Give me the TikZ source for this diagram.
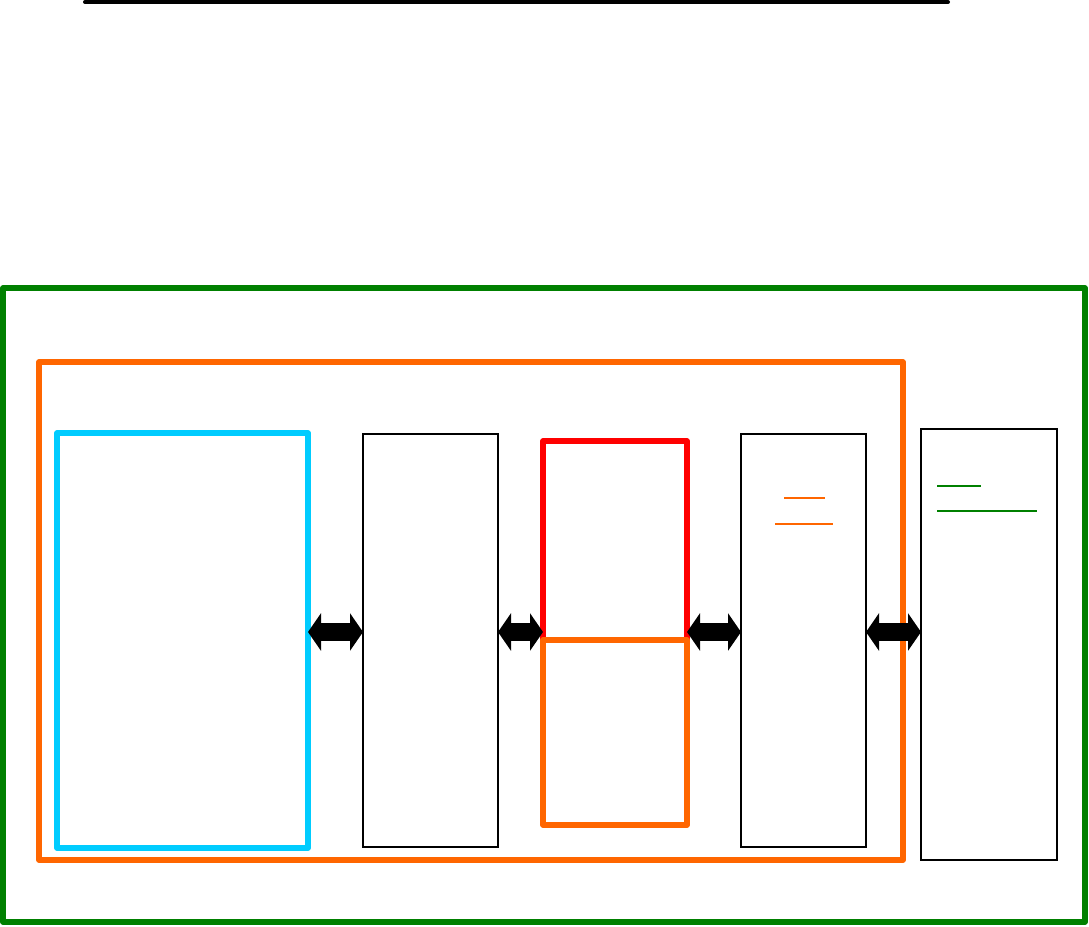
\documentclass[tikz,border=0pt]{standalone}
\usetikzlibrary{arrows.meta}
\definecolor{cgreen}{HTML}{008000}
\definecolor{corange}{HTML}{FF6600}
\definecolor{ccyan}{HTML}{00CCFF}
\definecolor{cred}{HTML}{FF0000}
\tikzset{
  boxbase/.style={draw, inner sep=0pt, outer sep=0pt, anchor=center},
  thickbox/.style={boxbase, line width=5.5pt, line join=round},
  thinbox/.style={boxbase, draw=black, line width=1.6pt},
  dblarrow/.style={line width=18pt, {Triangle[length=13pt 0 0,width=37pt 0 0]}-{Triangle[length=13pt 0 0,width=37pt 0 0]}},
  uline/.style={line width=#1},
}
\begin{document}
\begin{tikzpicture}[x=1pt,y=-1pt]
\useasboundingbox (0,0) rectangle (1089,926);
% top rule
\coordinate (tl) at (85,2);
\coordinate (tr) at (948,2);
\draw[line width=4pt, line cap=round] (tl) -- (tr);
% containers
\node[thickbox, draw=cgreen, minimum width=1082pt, minimum height=634pt] (green) at (544,605) {};
\node[thickbox, draw=corange, minimum width=864pt, minimum height=498pt] (outer) at (471,611) {};
% inner boxes
\node[thickbox, draw=ccyan, minimum width=251pt, minimum height=415pt] (cyan) at (182.5,640.5) {};
\node[thinbox, minimum width=135pt, minimum height=413pt] (b2) at (430.5,640.5) {};
\node[thickbox, draw=cred, minimum width=144pt, minimum height=199pt] (red) at (615,540.5) {};
\node[thickbox, draw=corange, minimum width=144pt, minimum height=185pt] (org) at (615,732.5) {};
\node[thinbox, minimum width=125pt, minimum height=413pt] (b4) at (803.5,640.5) {};
\node[thinbox, minimum width=136pt, minimum height=431pt] (b5) at (989,644.5) {};
% underlines
\coordinate (o1a) at (784,498); \coordinate (o1b) at (825,498);
\coordinate (o2a) at (775,524); \coordinate (o2b) at (833,524);
\draw[corange, uline=1.2pt] (o1a) -- (o1b);
\draw[corange, uline=2pt] (o2a) -- (o2b);
\coordinate (g1a) at (937,486); \coordinate (g1b) at (981,486);
\coordinate (g2a) at (937,511); \coordinate (g2b) at (1037,511);
\draw[cgreen, uline=2pt] (g1a) -- (g1b);
\draw[cgreen, uline=2pt] (g2a) -- (g2b);
% arrows
\coordinate (ay) at (0,632);
\draw[dblarrow] (cyan.east |- ay) -- (b2.west |- ay);
\draw[dblarrow] (b2.east |- ay) -- (red.west |- ay);
\draw[dblarrow] (red.east |- ay) -- (b4.west |- ay);
\draw[dblarrow] (b4.east |- ay) -- (b5.west |- ay);
\end{tikzpicture}
\end{document}
